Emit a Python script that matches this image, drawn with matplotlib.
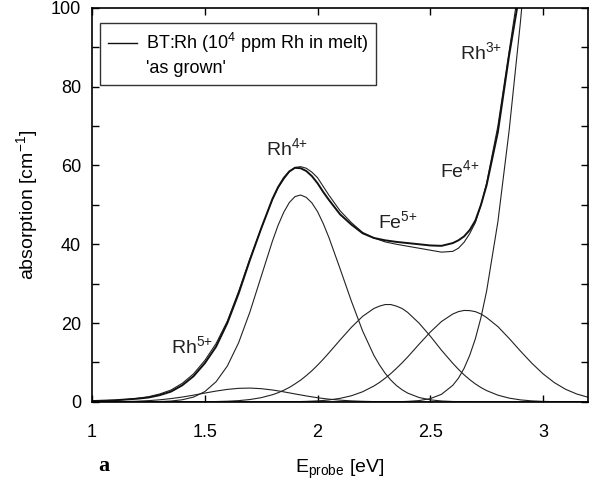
import matplotlib
matplotlib.use("Agg")
import matplotlib.pyplot as plt
from matplotlib.lines import Line2D
from matplotlib.ticker import MultipleLocator

plt.rcParams['font.family'] = ['Liberation Sans', 'DejaVu Sans']
plt.rcParams['mathtext.fontset'] = 'custom'
plt.rcParams['mathtext.rm'] = 'Liberation Sans'
plt.rcParams['mathtext.it'] = 'Liberation Sans:italic'
plt.rcParams['mathtext.bf'] = 'Liberation Sans:bold'

# photon energy grid [eV] (denser near the band maxima)
energy = [1.00, 1.05, 1.10, 1.15, 1.20, 1.25, 1.30, 1.35, 1.40, 1.45,
          1.50, 1.55, 1.60, 1.65, 1.70, 1.75, 1.80, 1.825, 1.85, 1.875,
          1.90, 1.925, 1.95, 1.975, 2.00, 2.025, 2.05, 2.10, 2.15, 2.20,
          2.25, 2.275, 2.30, 2.325, 2.35, 2.375, 2.40, 2.45, 2.50, 2.55,
          2.60, 2.625, 2.65, 2.675, 2.70, 2.725, 2.75, 2.80, 2.85, 2.90,
          2.95, 3.00, 3.05, 3.10, 3.15, 3.20]

# measured spectrum (thick) and fitted sum (thin)
measured = [0.2, 0.3, 0.4, 0.6, 0.8, 1.1, 1.7, 2.6, 4.2, 6.5,
            9.8, 14.0, 20.0, 27.5, 36.0, 44.0, 51.5, 54.5, 56.8, 58.5,
            59.4, 59.3, 58.6, 57.3, 55.5, 53.3, 51.3, 47.6, 45.0, 42.8,
            41.6, 41.3, 41.0, 40.8, 40.6, 40.45, 40.3, 40.0, 39.7, 39.6,
            40.3, 41.0, 42.0, 43.6, 46.0, 50.0, 55.0, 68.5, 88.0, 105.0,
            130.0, 160.0, 190.0, 220.0, 250.0, 280.0]
fit_sum = [0.2, 0.3, 0.4, 0.6, 0.9, 1.3, 2.0, 3.0, 4.7, 7.1,
           10.5, 14.8, 20.5, 28.0, 36.3, 44.0, 51.3, 54.3, 56.5, 58.4,
           59.5, 59.7, 59.3, 58.3, 56.9, 54.7, 52.5, 48.5, 45.5, 43.0,
           41.6, 41.1, 40.6, 40.3, 40.0, 39.75, 39.5, 39.0, 38.5, 38.0,
           38.2, 39.0, 40.5, 42.7, 45.5, 50.0, 55.5, 70.0, 89.0, 108.0,
           135.0, 165.0, 195.0, 225.0, 255.0, 285.0]

# fitted absorption bands
rh5 = [0.01, 0.02, 0.05, 0.09, 0.17, 0.31, 0.52, 0.83, 1.22, 1.70,
       2.23, 2.74, 3.16, 3.43, 3.50, 3.35, 3.01, 2.79, 2.54, 2.28,
       2.01, 1.76, 1.50, 1.27, 1.05, 0.86, 0.69, 0.43, 0.25, 0.14,
       0.07, 0.05, 0.03, 0.02, 0.0, 0.0, 0.0, 0.0, 0.0, 0.0,
       0.0, 0.0, 0.0, 0.0, 0.0, 0.0, 0.0, 0.0, 0.0, 0.0,
       0.0, 0.0, 0.0, 0.0, 0.0, 0.0]
rh4 = [0.0, 0.0, 0.0, 0.0, 0.0, 0.03, 0.08, 0.21, 0.53, 1.21,
       2.60, 5.1, 9.1, 15.0, 22.8, 31.8, 40.8, 44.8, 48.1, 50.6,
       52.1, 52.5, 51.9, 50.5, 48.3, 45.3, 41.8, 33.8, 25.6, 18.0,
       11.8, 9.35, 7.25, 5.54, 4.15, 3.07, 2.22, 1.11, 0.51, 0.22,
       0.09, 0.06, 0.03, 0.02, 0.01, 0.0, 0.0, 0.0, 0.0, 0.0,
       0.0, 0.0, 0.0, 0.0, 0.0, 0.0]
fe5 = [0.0, 0.0, 0.0, 0.0, 0.0, 0.0, 0.0, 0.0, 0.0, 0.0,
       0.03, 0.08, 0.16, 0.31, 0.59, 1.06, 1.81, 2.31, 2.93, 3.66,
       4.55, 5.51, 6.65, 7.9, 9.30, 10.8, 12.4, 15.7, 18.9, 21.7,
       23.7, 24.3, 24.7, 24.7, 24.3, 23.7, 22.7, 20.0, 16.7, 13.1,
       9.78, 8.26, 6.87, 5.64, 4.56, 3.63, 2.86, 1.70, 0.95, 0.50,
       0.25, 0.12, 0.05, 0.02, 0.0, 0.0]
fe4 = [0.0, 0.0, 0.0, 0.0, 0.0, 0.0, 0.0, 0.0, 0.0, 0.0,
       0.0, 0.0, 0.0, 0.0, 0.0, 0.0, 0.0, 0.01, 0.02, 0.03,
       0.05, 0.08, 0.12, 0.18, 0.25, 0.35, 0.48, 0.89, 1.54, 2.56,
       4.02, 4.93, 6.0, 7.17, 8.5, 9.9, 11.4, 14.6, 17.7, 20.4,
       22.3, 22.9, 23.2, 23.16, 22.9, 22.3, 21.4, 19.1, 16.1, 12.9,
       9.84, 7.13, 4.9, 3.2, 1.99, 1.17]
rh3 = [0.0, 0.0, 0.0, 0.0, 0.0, 0.0, 0.0, 0.0, 0.0, 0.0,
       0.0, 0.0, 0.0, 0.0, 0.0, 0.0, 0.0, 0.0, 0.0, 0.0,
       0.0, 0.0, 0.0, 0.0, 0.0, 0.0, 0.0, 0.0, 0.0, 0.0,
       0.0, 0.01, 0.01, 0.02, 0.04, 0.07, 0.12, 0.32, 0.81, 1.92,
       4.2, 6.0, 8.5, 11.8, 16.0, 21.4, 28.1, 45.7, 68.9, 96.4,
       128.0, 160.0, 190.0, 220.0, 250.0, 280.0]

band_labels = ["Rh$^{5{+}}$", "Rh$^{4{+}}$", "Fe$^{5{+}}$",
               "Fe$^{4{+}}$", "Rh$^{3{+}}$"]
label_x = [1.35, 1.77, 2.27, 2.545, 2.63]
label_y = [12.4, 62.7, 44.2, 57.1, 86.9]

fig = plt.figure(figsize=(5.94, 4.83), dpi=100)
ax = fig.add_axes([0.155, 0.168, 0.835, 0.8157])

for band in [rh5, rh4, fe5, fe4, rh3]:
    ax.plot(energy, band, color="#222222", lw=0.8)
ax.plot(energy, fit_sum, color="#222222", lw=0.8)
ax.plot(energy, measured, color="#111111", lw=1.4)

for txt, tx, ty in zip(band_labels, label_x, label_y):
    ax.text(tx, ty, txt, fontsize=14, ha="left", va="baseline", color="#222222")

ax.set_xlim(1, 3.2)
ax.set_ylim(0, 100)
ax.yaxis.set_major_locator(MultipleLocator(20))
ax.yaxis.set_minor_locator(MultipleLocator(10))
ax.tick_params(which="both", direction="in", top=True, right=True,
               labelsize=13, width=1)
ax.tick_params(axis="x", which="major", length=5, pad=16)
ax.tick_params(axis="y", which="major", length=5, pad=8)
ax.tick_params(axis="y", which="minor", length=5)
for sp in ax.spines.values():
    sp.set_linewidth(1.2)

ax.set_xticks([1, 1.5, 2, 2.5, 3])
ax.set_xticklabels(["1", "1.5", "2", "2.5", "3"])
ax.set_xlabel("E$_{\\rm probe}$ [eV]", fontsize=14, labelpad=12)
ax.set_ylabel("absorption [cm$^{-1}$]", fontsize=14, labelpad=8)

handles = [Line2D([], [], color="#111111", lw=1.0),
           Line2D([], [], color="none")]
leg = ax.legend(handles, ["BT:Rh (10$^4$ ppm Rh in melt)", "'as grown'"],
                loc="upper left", bbox_to_anchor=(0.016, 0.962),
                borderaxespad=0, fontsize=13, frameon=True, fancybox=False,
                edgecolor="black", handlelength=1.6, handletextpad=0.5,
                borderpad=0.45, labelspacing=0.25)
leg.get_frame().set_linewidth(1.0)

fig.text(0.165, 0.025, "a", fontsize=16, fontweight="bold",
         family="Liberation Serif")

fig.savefig("out.png", dpi=100)
